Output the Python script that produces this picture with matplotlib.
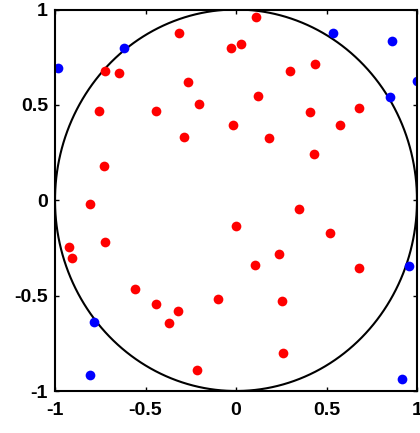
import matplotlib
matplotlib.use("Agg")
from matplotlib import pyplot as plt
import numpy as np

# points inside the unit circle
red_x = [0.11, -0.315, -0.028, 0.026, -0.724, -0.648, 0.297, 0.435, -0.263,
         -0.755, -0.44, -0.203, 0.12, 0.68, 0.411, 0.573, -0.287, -0.015,
         0.18, 0.433, -0.727, -0.807, 0.346, -0.921, -0.904, -0.726, 0.002,
         0.521, 0.239, 0.103, 0.681, -0.556, -0.44, -0.32, -0.37, -0.099,
         0.254, -0.214, 0.26]
red_y = [0.961, 0.879, 0.797, 0.819, 0.678, 0.667, 0.675, 0.716, 0.619,
         0.468, 0.468, 0.505, 0.549, 0.482, 0.461, 0.392, 0.332, 0.393,
         0.325, 0.243, 0.182, -0.018, -0.046, -0.245, -0.301, -0.218, -0.136,
         -0.171, -0.28, -0.341, -0.355, -0.465, -0.542, -0.582, -0.645, -0.519,
         -0.526, -0.89, -0.802]

# points outside
blue_x = [-0.985, -0.619, 0.538, 0.86, 0.998, 0.853, 0.956, -0.785, -0.807, 0.915]
blue_y = [0.692, 0.798, 0.875, 0.837, 0.627, 0.542, -0.343, -0.64, -0.914, -0.938]

ticks = [-1, -0.5, 0, 0.5, 1]
tick_labels = ['-1', '-0.5', '0', '0.5', '1']

fig = plt.figure(figsize=(4.2, 4.33), dpi=100)
ax = fig.add_axes([55/420, 42/433, 362/420, 381.5/433])

t = np.linspace(0, 2*np.pi, 400)
ax.plot(np.cos(t), np.sin(t), '-', color='black', lw=1.5)
ax.plot(red_x, red_y, 'o', color='red', ms=7, mec='none')
ax.plot(blue_x, blue_y, 'o', color='blue', ms=7, mec='none')

ax.set_xlim([-1, 1])
ax.set_ylim([-1, 1])
ax.set_xticks(ticks)
ax.set_yticks(ticks)
ax.set_xticklabels(tick_labels, fontsize=14, fontweight='bold', family='Liberation Sans')
ax.set_yticklabels(tick_labels, fontsize=14, fontweight='bold', family='Liberation Sans')
ax.tick_params(direction='in', top=True, right=True, length=3, width=1)
ax.tick_params(axis='x', pad=8)
ax.tick_params(axis='y', pad=5)
for s in ax.spines.values():
    s.set_linewidth(1.5)

plt.savefig('out.png', dpi=100)
